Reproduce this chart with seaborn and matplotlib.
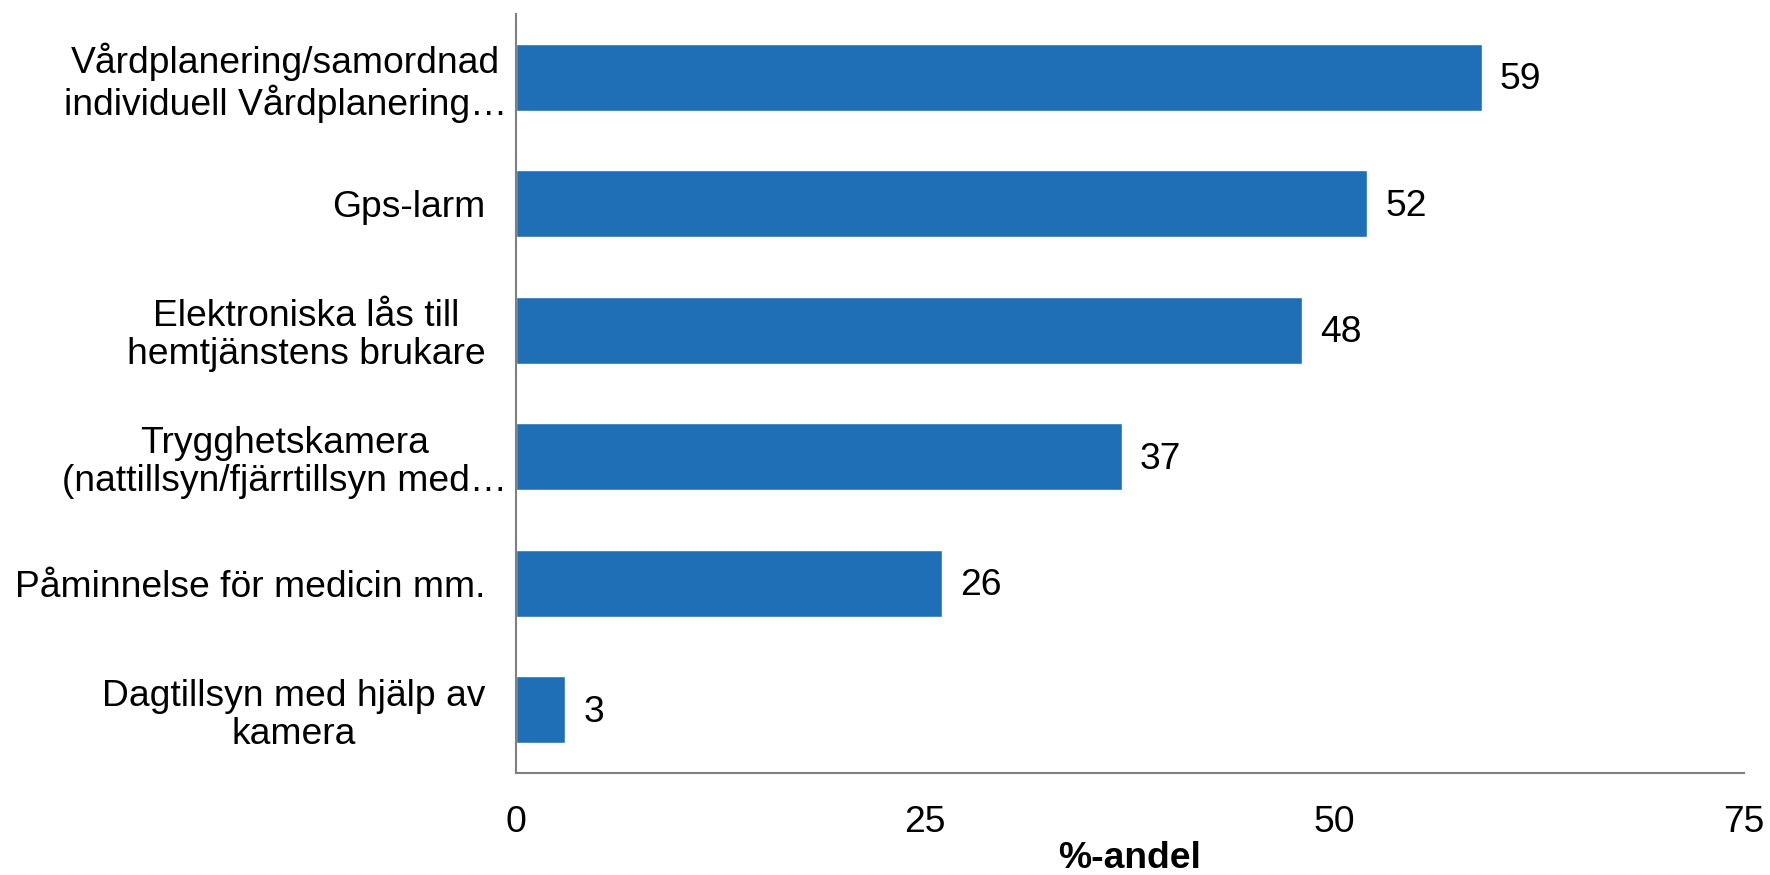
import matplotlib
matplotlib.use("Agg")

import pandas as pd
import matplotlib.pyplot as plt
import matplotlib.transforms as mtransforms
import seaborn as sns

# Data
categories = [
    "Vårdplanering/samordnad\nindividuell Vårdplanering…",
    "Gps-larm",
    "Elektroniska lås till\nhemtjänstens brukare",
    "Trygghetskamera\n(nattillsyn/fjärrtillsyn med…",
    "Påminnelse för medicin mm.",
    "Dagtillsyn med hjälp av\nkamera",
]
values = [59, 52, 48, 37, 26, 3]
x_ticks = [0, 25, 50, 75]
x_label = "%-andel"

df = pd.DataFrame({"kategori": categories, "andel": values})

sns.set_theme(style="white")
plt.rcParams['font.family'] = ['Liberation Sans', 'DejaVu Sans']
FS = 26.8

fig = plt.figure(figsize=(17.7, 8.75), dpi=100)
ax = fig.add_axes([0.2915, 0.1166, 0.6938, 0.8674])

sns.barplot(data=df, x="andel", y="kategori", color="#1F6FB7",
            width=0.53, saturation=1, ax=ax)

for i, v in enumerate(values):
    ax.text(v + 1.1, i + 0.02, str(v), va="center", ha="left", fontsize=FS, color="black")

ax.set_xlim(0, 75)
ax.set_xticks(x_ticks)
ax.set_xticklabels([str(t) for t in x_ticks], fontsize=FS, color="black")
ax.tick_params(axis="x", length=0, pad=23)
ax.tick_params(axis="y", length=0, pad=22, labelsize=FS, labelcolor="black")
# truncated labels in the original spill over to the right
shift = mtransforms.ScaledTranslation(22 / 100, 0, fig.dpi_scale_trans)
for lbl in ax.get_yticklabels():
    lbl.set_multialignment("center")
    lbl.set_linespacing(1.12)
    if "…" in lbl.get_text():
        lbl.set_transform(lbl.get_transform() + shift)

ax.set_xlabel(x_label, fontsize=FS, fontweight="bold", labelpad=1, color="black")
ax.set_ylabel("")

sns.despine(ax=ax, top=True, right=True)
for side in ["left", "bottom"]:
    ax.spines[side].set_color("#7f7f7f")
    ax.spines[side].set_linewidth(1.5)

fig.savefig("out.png", dpi=100)
plt.close(fig)
